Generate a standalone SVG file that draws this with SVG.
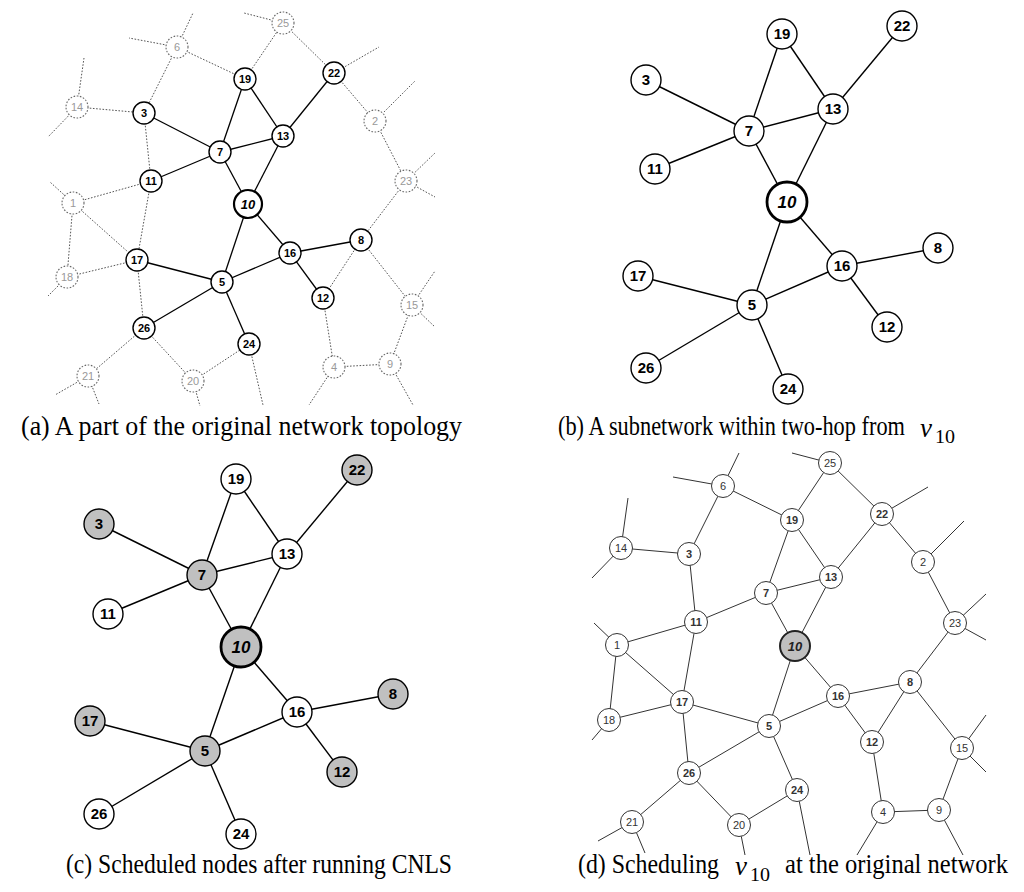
<svg xmlns="http://www.w3.org/2000/svg" width="1024" height="892" viewBox="0 0 1024 892">
<style>
.bg{fill:#fff}
.ea{stroke:#000;stroke-width:1.3;fill:none}
.da{stroke:#555;stroke-width:1;stroke-dasharray:1.6 1.6;fill:none}
.na{fill:#fff;stroke:#000;stroke-width:1.4}
.ni{fill:#fff;stroke:#666;stroke-width:1.1;stroke-dasharray:1.6 1.6}
.nc{fill:#fff;stroke:#000;stroke-width:2.2}
.ta{font-family:"Liberation Sans",Arial,sans-serif;font-size:11px;font-weight:bold;text-anchor:middle;fill:#000}
.ti{font-family:"Liberation Sans",Arial,sans-serif;font-size:11px;text-anchor:middle;fill:#999}
.tc{font-family:"Liberation Sans",Arial,sans-serif;font-size:13px;font-weight:bold;font-style:italic;text-anchor:middle;fill:#000}
.eb{stroke:#000;stroke-width:1.4;fill:none}
.nb{fill:#fff;stroke:#000;stroke-width:1.4}
.ng{fill:#c0c0c0;stroke:#000;stroke-width:1.4}
.nbc{fill:#fff;stroke:#000;stroke-width:2.8}
.ngc{fill:#c0c0c0;stroke:#000;stroke-width:2.8}
.tb{font-family:"Liberation Sans",Arial,sans-serif;font-size:15px;font-weight:bold;text-anchor:middle;fill:#000}
.tbc{font-family:"Liberation Sans",Arial,sans-serif;font-size:17px;font-weight:bold;font-style:italic;text-anchor:middle;fill:#000}
.ed{stroke:#333;stroke-width:1;fill:none}
.nd{fill:#fff;stroke:#333;stroke-width:1}
.ndc{fill:#c0c0c0;stroke:#222;stroke-width:2}
.td{font-family:"Liberation Sans",Arial,sans-serif;font-size:11px;text-anchor:middle;fill:#333}
.tdb{font-family:"Liberation Sans",Arial,sans-serif;font-size:11px;font-weight:bold;text-anchor:middle;fill:#333}
.tdc{font-family:"Liberation Sans",Arial,sans-serif;font-size:13px;font-weight:bold;font-style:italic;text-anchor:middle;fill:#222}
.cap{font-family:"Liberation Serif","Times New Roman",serif;font-size:28px;fill:#000}
.capi{font-family:"Liberation Serif","Times New Roman",serif;font-size:27px;font-style:italic;fill:#000}
.caps{font-family:"Liberation Serif","Times New Roman",serif;font-size:18px;fill:#000}
</style>
<rect class="bg" x="0" y="0" width="1024" height="892"/>

<!-- ===== Panel (a) ===== -->
<g id="a-connectors">
<g class="da">
<line x1="177" y1="47" x2="144" y2="113"/>
<line x1="177" y1="47" x2="245" y2="79"/>
<line x1="77" y1="107" x2="144" y2="113"/>
<line x1="144" y1="113" x2="151" y2="181"/>
<line x1="245" y1="79" x2="283" y2="23"/>
<line x1="283" y1="23" x2="334" y2="73"/>
<line x1="334" y1="73" x2="375" y2="121"/>
<line x1="375" y1="121" x2="406" y2="181"/>
<line x1="406" y1="181" x2="361" y2="240"/>
<line x1="151" y1="181" x2="73" y2="203"/>
<line x1="151" y1="181" x2="137" y2="260"/>
<line x1="73" y1="203" x2="137" y2="260"/>
<line x1="73" y1="203" x2="67" y2="277"/>
<line x1="67" y1="277" x2="137" y2="260"/>
<line x1="137" y1="260" x2="144" y2="328"/>
<line x1="361" y1="240" x2="323" y2="298"/>
<line x1="361" y1="240" x2="412" y2="305"/>
<line x1="323" y1="298" x2="334" y2="367"/>
<line x1="334" y1="367" x2="390" y2="364"/>
<line x1="390" y1="364" x2="412" y2="305"/>
<line x1="144" y1="328" x2="88" y2="376"/>
<line x1="144" y1="328" x2="193" y2="381"/>
<line x1="193" y1="381" x2="249" y2="344"/>
<line x1="177" y1="47" x2="193" y2="13"/>
<line x1="177" y1="47" x2="129" y2="38"/>
<line x1="283" y1="23" x2="244" y2="13"/>
<line x1="77" y1="107" x2="84" y2="58"/>
<line x1="77" y1="107" x2="48" y2="137"/>
<line x1="73" y1="203" x2="50" y2="182"/>
<line x1="334" y1="73" x2="379" y2="47"/>
<line x1="375" y1="121" x2="415" y2="81"/>
<line x1="406" y1="181" x2="435" y2="153"/>
<line x1="406" y1="181" x2="435" y2="197"/>
<line x1="67" y1="277" x2="48" y2="296"/>
<line x1="88" y1="376" x2="55" y2="395"/>
<line x1="88" y1="376" x2="99" y2="404"/>
<line x1="193" y1="381" x2="200" y2="406"/>
<line x1="249" y1="344" x2="263" y2="405"/>
<line x1="412" y1="305" x2="435" y2="271"/>
<line x1="412" y1="305" x2="435" y2="327"/>
<line x1="334" y1="367" x2="309" y2="405"/>
<line x1="390" y1="364" x2="413" y2="405"/>
</g>
<g class="ea">
<line x1="144" y1="113" x2="220" y2="152"/>
<line x1="220" y1="152" x2="151" y2="181"/>
<line x1="220" y1="152" x2="245" y2="79"/>
<line x1="220" y1="152" x2="283" y2="136"/>
<line x1="220" y1="152" x2="248" y2="204"/>
<line x1="245" y1="79" x2="283" y2="136"/>
<line x1="283" y1="136" x2="334" y2="73"/>
<line x1="283" y1="136" x2="248" y2="204"/>
<line x1="248" y1="204" x2="222" y2="282"/>
<line x1="248" y1="204" x2="290" y2="253"/>
<line x1="290" y1="253" x2="361" y2="240"/>
<line x1="290" y1="253" x2="323" y2="298"/>
<line x1="222" y1="282" x2="290" y2="253"/>
<line x1="222" y1="282" x2="137" y2="260"/>
<line x1="222" y1="282" x2="144" y2="328"/>
<line x1="222" y1="282" x2="249" y2="344"/>
</g>
</g>
<g id="a-n6"><circle class="ni" cx="177" cy="47" r="11"/><text class="ti" x="177" y="51">6</text></g>
<g id="a-n25"><circle class="ni" cx="283" cy="23" r="11"/><text class="ti" x="283" y="27">25</text></g>
<g id="a-n19"><circle class="na" cx="245" cy="79" r="11"/><text class="ta" x="245" y="83">19</text></g>
<g id="a-n22"><circle class="na" cx="334" cy="73" r="11"/><text class="ta" x="334" y="77">22</text></g>
<g id="a-n14"><circle class="ni" cx="77" cy="107" r="11"/><text class="ti" x="77" y="111">14</text></g>
<g id="a-n3"><circle class="na" cx="144" cy="113" r="11"/><text class="ta" x="144" y="117">3</text></g>
<g id="a-n2"><circle class="ni" cx="375" cy="121" r="11"/><text class="ti" x="375" y="125">2</text></g>
<g id="a-n13"><circle class="na" cx="283" cy="136" r="11"/><text class="ta" x="283" y="140">13</text></g>
<g id="a-n7"><circle class="na" cx="220" cy="152" r="11"/><text class="ta" x="220" y="156">7</text></g>
<g id="a-n11"><circle class="na" cx="151" cy="181" r="11"/><text class="ta" x="151" y="185">11</text></g>
<g id="a-n23"><circle class="ni" cx="406" cy="181" r="11"/><text class="ti" x="406" y="185">23</text></g>
<g id="a-n1"><circle class="ni" cx="73" cy="203" r="11"/><text class="ti" x="73" y="207">1</text></g>
<g id="a-n10"><circle class="nc" cx="248" cy="204" r="14"/><text class="tc" x="248" y="209">10</text></g>
<g id="a-n8"><circle class="na" cx="361" cy="240" r="11"/><text class="ta" x="361" y="244">8</text></g>
<g id="a-n16"><circle class="na" cx="290" cy="253" r="11"/><text class="ta" x="290" y="257">16</text></g>
<g id="a-n17"><circle class="na" cx="137" cy="260" r="11"/><text class="ta" x="137" y="264">17</text></g>
<g id="a-n18"><circle class="ni" cx="67" cy="277" r="11"/><text class="ti" x="67" y="281">18</text></g>
<g id="a-n5"><circle class="na" cx="222" cy="282" r="11"/><text class="ta" x="222" y="286">5</text></g>
<g id="a-n12"><circle class="na" cx="323" cy="298" r="11"/><text class="ta" x="323" y="302">12</text></g>
<g id="a-n15"><circle class="ni" cx="412" cy="305" r="11"/><text class="ti" x="412" y="309">15</text></g>
<g id="a-n26"><circle class="na" cx="144" cy="328" r="11"/><text class="ta" x="144" y="332">26</text></g>
<g id="a-n24"><circle class="na" cx="249" cy="344" r="11"/><text class="ta" x="249" y="348">24</text></g>
<g id="a-n4"><circle class="ni" cx="334" cy="367" r="11"/><text class="ti" x="334" y="371">4</text></g>
<g id="a-n9"><circle class="ni" cx="390" cy="364" r="11"/><text class="ti" x="390" y="368">9</text></g>
<g id="a-n21"><circle class="ni" cx="88" cy="376" r="11"/><text class="ti" x="88" y="380">21</text></g>
<g id="a-n20"><circle class="ni" cx="193" cy="381" r="11"/><text class="ti" x="193" y="385">20</text></g>

<!-- ===== Panel (b) ===== -->
<g id="b-connectors" class="eb">
<line x1="646" y1="80" x2="749" y2="131"/>
<line x1="655" y1="169" x2="749" y2="131"/>
<line x1="749" y1="131" x2="782" y2="34"/>
<line x1="782" y1="34" x2="833" y2="109"/>
<line x1="749" y1="131" x2="833" y2="109"/>
<line x1="833" y1="109" x2="902" y2="26"/>
<line x1="749" y1="131" x2="787" y2="202"/>
<line x1="833" y1="109" x2="787" y2="202"/>
<line x1="787" y1="202" x2="752" y2="305"/>
<line x1="787" y1="202" x2="842" y2="266"/>
<line x1="842" y1="266" x2="938" y2="248"/>
<line x1="842" y1="266" x2="887" y2="327"/>
<line x1="752" y1="305" x2="842" y2="266"/>
<line x1="752" y1="305" x2="638" y2="276"/>
<line x1="752" y1="305" x2="646" y2="368"/>
<line x1="752" y1="305" x2="788" y2="389"/>
</g>
<g id="b-n19"><circle class="nb" cx="782" cy="34" r="15"/><text class="tb" x="782" y="39">19</text></g>
<g id="b-n22"><circle class="nb" cx="902" cy="26" r="15"/><text class="tb" x="902" y="31">22</text></g>
<g id="b-n3"><circle class="nb" cx="646" cy="80" r="15"/><text class="tb" x="646" y="85">3</text></g>
<g id="b-n13"><circle class="nb" cx="833" cy="109" r="15"/><text class="tb" x="833" y="114">13</text></g>
<g id="b-n7"><circle class="nb" cx="749" cy="131" r="15"/><text class="tb" x="749" y="136">7</text></g>
<g id="b-n11"><circle class="nb" cx="655" cy="169" r="15"/><text class="tb" x="655" y="174">11</text></g>
<g id="b-n10"><circle class="nbc" cx="787" cy="202" r="20"/><text class="tbc" x="787" y="208">10</text></g>
<g id="b-n8"><circle class="nb" cx="938" cy="248" r="15"/><text class="tb" x="938" y="253">8</text></g>
<g id="b-n16"><circle class="nb" cx="842" cy="266" r="15"/><text class="tb" x="842" y="271">16</text></g>
<g id="b-n17"><circle class="nb" cx="638" cy="276" r="15"/><text class="tb" x="638" y="281">17</text></g>
<g id="b-n5"><circle class="nb" cx="752" cy="305" r="15"/><text class="tb" x="752" y="310">5</text></g>
<g id="b-n12"><circle class="nb" cx="887" cy="327" r="15"/><text class="tb" x="887" y="332">12</text></g>
<g id="b-n26"><circle class="nb" cx="646" cy="368" r="15"/><text class="tb" x="646" y="373">26</text></g>
<g id="b-n24"><circle class="nb" cx="788" cy="389" r="15"/><text class="tb" x="788" y="394">24</text></g>

<!-- ===== Panel (c) ===== -->
<g id="c-connectors" class="eb">
<line x1="99" y1="524" x2="202" y2="575"/>
<line x1="108" y1="614" x2="202" y2="575"/>
<line x1="202" y1="575" x2="236" y2="479"/>
<line x1="236" y1="479" x2="287" y2="554"/>
<line x1="202" y1="575" x2="287" y2="554"/>
<line x1="287" y1="554" x2="357" y2="470"/>
<line x1="202" y1="575" x2="241" y2="647"/>
<line x1="287" y1="554" x2="241" y2="647"/>
<line x1="241" y1="647" x2="205" y2="751"/>
<line x1="241" y1="647" x2="297" y2="712"/>
<line x1="297" y1="712" x2="393" y2="694"/>
<line x1="297" y1="712" x2="342" y2="772"/>
<line x1="205" y1="751" x2="297" y2="712"/>
<line x1="205" y1="751" x2="90" y2="721"/>
<line x1="205" y1="751" x2="99" y2="814"/>
<line x1="205" y1="751" x2="241" y2="834"/>
</g>
<g id="c-n19"><circle class="nb" cx="236" cy="479" r="15"/><text class="tb" x="236" y="484">19</text></g>
<g id="c-n22"><circle class="ng" cx="357" cy="470" r="15"/><text class="tb" x="357" y="475">22</text></g>
<g id="c-n3"><circle class="ng" cx="99" cy="524" r="15"/><text class="tb" x="99" y="529">3</text></g>
<g id="c-n13"><circle class="nb" cx="287" cy="554" r="15"/><text class="tb" x="287" y="559">13</text></g>
<g id="c-n7"><circle class="ng" cx="202" cy="575" r="15"/><text class="tb" x="202" y="580">7</text></g>
<g id="c-n11"><circle class="nb" cx="108" cy="614" r="15"/><text class="tb" x="108" y="619">11</text></g>
<g id="c-n10"><circle class="ngc" cx="241" cy="647" r="20"/><text class="tbc" x="241" y="653">10</text></g>
<g id="c-n8"><circle class="ng" cx="393" cy="694" r="15"/><text class="tb" x="393" y="699">8</text></g>
<g id="c-n16"><circle class="nb" cx="297" cy="712" r="15"/><text class="tb" x="297" y="717">16</text></g>
<g id="c-n17"><circle class="ng" cx="90" cy="721" r="15"/><text class="tb" x="90" y="726">17</text></g>
<g id="c-n5"><circle class="ng" cx="205" cy="751" r="15"/><text class="tb" x="205" y="756">5</text></g>
<g id="c-n12"><circle class="ng" cx="342" cy="772" r="15"/><text class="tb" x="342" y="777">12</text></g>
<g id="c-n26"><circle class="nb" cx="99" cy="814" r="15"/><text class="tb" x="99" y="819">26</text></g>
<g id="c-n24"><circle class="nb" cx="241" cy="834" r="15"/><text class="tb" x="241" y="839">24</text></g>

<!-- ===== Panel (d) ===== -->
<g id="d-connectors" class="ed">
<line x1="723" y1="486" x2="689" y2="554"/>
<line x1="723" y1="486" x2="792" y2="520"/>
<line x1="621" y1="548" x2="689" y2="554"/>
<line x1="689" y1="554" x2="696" y2="622"/>
<line x1="792" y1="520" x2="830" y2="463"/>
<line x1="830" y1="463" x2="882" y2="514"/>
<line x1="882" y1="514" x2="923" y2="562"/>
<line x1="923" y1="562" x2="955" y2="623"/>
<line x1="955" y1="623" x2="910" y2="682"/>
<line x1="696" y1="622" x2="617" y2="645"/>
<line x1="696" y1="622" x2="682" y2="702"/>
<line x1="617" y1="645" x2="682" y2="702"/>
<line x1="617" y1="645" x2="609" y2="720"/>
<line x1="609" y1="720" x2="682" y2="702"/>
<line x1="682" y1="702" x2="689" y2="773"/>
<line x1="910" y1="682" x2="872" y2="742"/>
<line x1="910" y1="682" x2="962" y2="748"/>
<line x1="872" y1="742" x2="883" y2="812"/>
<line x1="883" y1="812" x2="939" y2="810"/>
<line x1="939" y1="810" x2="962" y2="748"/>
<line x1="689" y1="773" x2="632" y2="822"/>
<line x1="689" y1="773" x2="739" y2="825"/>
<line x1="739" y1="825" x2="797" y2="790"/>
<line x1="696" y1="622" x2="766" y2="593"/>
<line x1="766" y1="593" x2="792" y2="520"/>
<line x1="766" y1="593" x2="831" y2="577"/>
<line x1="766" y1="593" x2="795" y2="646"/>
<line x1="792" y1="520" x2="831" y2="577"/>
<line x1="831" y1="577" x2="882" y2="514"/>
<line x1="831" y1="577" x2="795" y2="646"/>
<line x1="795" y1="646" x2="769" y2="726"/>
<line x1="795" y1="646" x2="838" y2="696"/>
<line x1="838" y1="696" x2="910" y2="682"/>
<line x1="838" y1="696" x2="872" y2="742"/>
<line x1="769" y1="726" x2="838" y2="696"/>
<line x1="769" y1="726" x2="682" y2="702"/>
<line x1="769" y1="726" x2="689" y2="773"/>
<line x1="769" y1="726" x2="797" y2="790"/>
<line x1="723" y1="486" x2="739" y2="453"/>
<line x1="723" y1="486" x2="673" y2="477"/>
<line x1="830" y1="463" x2="792" y2="453"/>
<line x1="621" y1="548" x2="628" y2="498"/>
<line x1="621" y1="548" x2="592" y2="578"/>
<line x1="617" y1="645" x2="594" y2="623"/>
<line x1="882" y1="514" x2="928" y2="487"/>
<line x1="923" y1="562" x2="964" y2="521"/>
<line x1="955" y1="623" x2="986" y2="594"/>
<line x1="955" y1="623" x2="986" y2="640"/>
<line x1="609" y1="720" x2="592" y2="740"/>
<line x1="632" y1="822" x2="598" y2="841"/>
<line x1="632" y1="822" x2="645" y2="853"/>
<line x1="739" y1="825" x2="745" y2="855"/>
<line x1="797" y1="790" x2="810" y2="855"/>
<line x1="962" y1="748" x2="986" y2="715"/>
<line x1="962" y1="748" x2="986" y2="772"/>
<line x1="883" y1="812" x2="857" y2="855"/>
<line x1="939" y1="810" x2="963" y2="855"/>
</g>
<g id="d-n6"><circle class="nd" cx="723" cy="486" r="11.5"/><text class="td" x="723" y="490">6</text></g>
<g id="d-n25"><circle class="nd" cx="830" cy="463" r="11.5"/><text class="td" x="830" y="467">25</text></g>
<g id="d-n19"><circle class="nd" cx="792" cy="520" r="11.5"/><text class="tdb" x="792" y="524">19</text></g>
<g id="d-n22"><circle class="nd" cx="882" cy="514" r="11.5"/><text class="tdb" x="882" y="518">22</text></g>
<g id="d-n14"><circle class="nd" cx="621" cy="548" r="11.5"/><text class="td" x="621" y="552">14</text></g>
<g id="d-n3"><circle class="nd" cx="689" cy="554" r="11.5"/><text class="tdb" x="689" y="558">3</text></g>
<g id="d-n2"><circle class="nd" cx="923" cy="562" r="11.5"/><text class="td" x="923" y="566">2</text></g>
<g id="d-n13"><circle class="nd" cx="831" cy="577" r="11.5"/><text class="tdb" x="831" y="581">13</text></g>
<g id="d-n7"><circle class="nd" cx="766" cy="593" r="11.5"/><text class="tdb" x="766" y="597">7</text></g>
<g id="d-n11"><circle class="nd" cx="696" cy="622" r="11.5"/><text class="tdb" x="696" y="626">11</text></g>
<g id="d-n23"><circle class="nd" cx="955" cy="623" r="11.5"/><text class="td" x="955" y="627">23</text></g>
<g id="d-n1"><circle class="nd" cx="617" cy="645" r="11.5"/><text class="td" x="617" y="649">1</text></g>
<g id="d-n10"><circle class="ndc" cx="795" cy="646" r="15"/><text class="tdc" x="795" y="651">10</text></g>
<g id="d-n8"><circle class="nd" cx="910" cy="682" r="11.5"/><text class="tdb" x="910" y="686">8</text></g>
<g id="d-n16"><circle class="nd" cx="838" cy="696" r="11.5"/><text class="tdb" x="838" y="700">16</text></g>
<g id="d-n17"><circle class="nd" cx="682" cy="702" r="11.5"/><text class="tdb" x="682" y="706">17</text></g>
<g id="d-n18"><circle class="nd" cx="609" cy="720" r="11.5"/><text class="td" x="609" y="724">18</text></g>
<g id="d-n5"><circle class="nd" cx="769" cy="726" r="11.5"/><text class="tdb" x="769" y="730">5</text></g>
<g id="d-n12"><circle class="nd" cx="872" cy="742" r="11.5"/><text class="tdb" x="872" y="746">12</text></g>
<g id="d-n15"><circle class="nd" cx="962" cy="748" r="11.5"/><text class="td" x="962" y="752">15</text></g>
<g id="d-n26"><circle class="nd" cx="689" cy="773" r="11.5"/><text class="tdb" x="689" y="777">26</text></g>
<g id="d-n24"><circle class="nd" cx="797" cy="790" r="11.5"/><text class="tdb" x="797" y="794">24</text></g>
<g id="d-n4"><circle class="nd" cx="883" cy="812" r="11.5"/><text class="td" x="883" y="816">4</text></g>
<g id="d-n9"><circle class="nd" cx="939" cy="810" r="11.5"/><text class="td" x="939" y="814">9</text></g>
<g id="d-n21"><circle class="nd" cx="632" cy="822" r="11.5"/><text class="td" x="632" y="826">21</text></g>
<g id="d-n20"><circle class="nd" cx="739" cy="825" r="11.5"/><text class="td" x="739" y="829">20</text></g>

<!-- ===== Captions ===== -->
<g id="captions">
<text class="cap" x="21" y="435" textLength="441" lengthAdjust="spacingAndGlyphs">(a) A part of the original network topology</text>
<text class="cap" x="558" y="435" textLength="347" lengthAdjust="spacingAndGlyphs">(b) A subnetwork within two-hop from</text>
<text class="capi" x="920" y="437">v</text>
<text class="caps" x="935" y="443" textLength="20" lengthAdjust="spacingAndGlyphs">10</text>
<text class="cap" x="66" y="873" textLength="386" lengthAdjust="spacingAndGlyphs">(c) Scheduled nodes after running CNLS</text>
<text class="cap" x="578" y="873" textLength="141" lengthAdjust="spacingAndGlyphs">(d) Scheduling</text>
<text class="capi" x="735" y="875">v</text>
<text class="caps" x="750" y="881" textLength="20" lengthAdjust="spacingAndGlyphs">10</text>
<text class="cap" x="785" y="873" textLength="223" lengthAdjust="spacingAndGlyphs">at the original network</text>
</g>
</svg>
